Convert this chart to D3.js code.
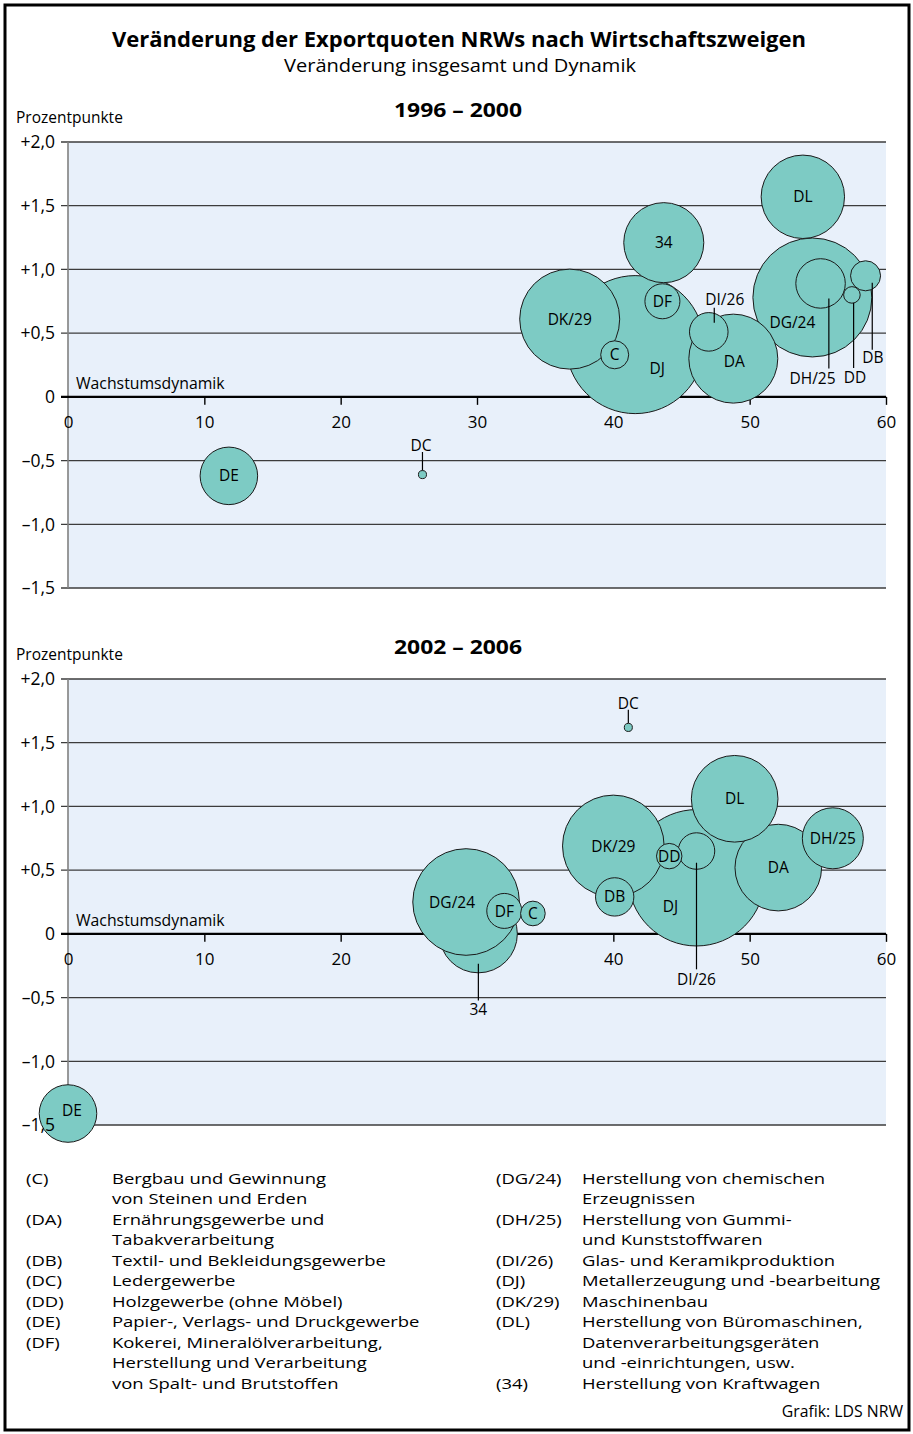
<!DOCTYPE html>
<html><head><meta charset="utf-8">
<script src="https://cdn.jsdelivr.net/npm/d3@7"></script>
<style>
body{margin:0;background:#fff}
svg{display:block}
text{font-family:"Open Sans",sans-serif;fill:#000}
</style>
</head><body>
<svg id="c" width="913" height="1434"></svg>
<script>
// ---------- DATA ----------
const categories = ["C","DA","DB","DC","DD","DE","DF","DG/24","DH/25","DI/26","DJ","DK/29","DL","34"];
// 1996 – 2000 : Wachstumsdynamik (x), Veränderung in Prozentpunkten (y), Bubble weight
const dyn9600  = [40.1, 48.8, 58.5, 26.0, 57.5, 11.8, 43.6, 54.6, 55.2, 47.0, 41.6, 36.8, 53.9, 43.7];
const chg9600  = [0.33, 0.30, 0.95,-0.61, 0.80,-0.62, 0.75, 0.78, 0.89, 0.51, 0.41, 0.61, 1.57, 1.21];
const size9600 = [4.0, 40.4, 4.6, 0.33, 1.4, 16.9, 6.25, 72.2, 12.5, 7.6, 97.2, 51.0, 35.5, 32.7];
// 2002 – 2006
const dyn0206  = [34.1, 52.1, 40.1, 41.1, 44.1, 0.0, 32.0, 29.2, 56.1, 46.1, 46.1, 40.0, 48.9, 30.1];
const chg0206  = [0.16, 0.52, 0.29, 1.62, 0.61,-1.41, 0.18, 0.25, 0.75, 0.65, 0.44, 0.69, 1.06, 0.00];
const size0206 = [3.1, 38.3, 7.5, 0.33, 3.3, 16.9, 6.25, 58.0, 19.0, 6.8, 94.9, 52.7, 38.3, 31.0];

const xTicks = [0,10,20,30,40,50,60];
const yTicks = [-1.5,-1,-0.5,0,0.5,1,1.5,2];
const yTickLabels = ["–1,5","–1,0","–0,5","0","+0,5","+1,0","+1,5","+2,0"];

const legendLeft = [
  ["(C)",  ["Bergbau und Gewinnung","von Steinen und Erden"]],
  ["(DA)", ["Ernährungsgewerbe und","Tabakverarbeitung"]],
  ["(DB)", ["Textil- und Bekleidungsgewerbe"]],
  ["(DC)", ["Ledergewerbe"]],
  ["(DD)", ["Holzgewerbe (ohne Möbel)"]],
  ["(DE)", ["Papier-, Verlags- und Druckgewerbe"]],
  ["(DF)", ["Kokerei, Mineralölverarbeitung,","Herstellung und Verarbeitung","von Spalt- und Brutstoffen"]]
];
const legendRight = [
  ["(DG/24)", ["Herstellung von chemischen","Erzeugnissen"]],
  ["(DH/25)", ["Herstellung von Gummi-","und Kunststoffwaren"]],
  ["(DI/26)", ["Glas- und Keramikproduktion"]],
  ["(DJ)",    ["Metallerzeugung und -bearbeitung"]],
  ["(DK/29)", ["Maschinenbau"]],
  ["(DL)",    ["Herstellung von Büromaschinen,","Datenverarbeitungsgeräten","und -einrichtungen, usw."]],
  ["(34)",    ["Herstellung von Kraftwagen"]]
];

// ---------- LAYOUT (drawing order, label offsets in px) ----------
const layout9600 = {
  order: ["DJ","DG/24","DK/29","DA","DL","34","DE","DH/25","DI/26","DF","DB","C","DD","DC"],
  label: {
    "DJ":{dx:22,dy:24}, "DG/24":{dx:-20,dy:25}, "DA":{dx:1,dy:3},
    "DI/26":{dx:16,dy:-32,line:[5.5,-9,-24]},
    "DH/25":{dx:-8,dy:95,line:[8.3,15,85]},
    "DD":{dx:3,dy:83,line:[1.7,8,73]},
    "DB":{dx:7.3,dy:82,line:[6.7,7,74]},
    "DC":{dx:-1.5,dy:-29,line:[0,-4.3,-22.6]}
  }
};
const layout0206 = {
  order: ["DJ","34","DG/24","DK/29","DA","DL","DH/25","DE","DB","DI/26","DF","DD","C","DC"],
  label: {
    "DJ":{dx:-26,dy:28.5}, "DG/24":{dx:-14,dy:0.5}, "DE":{dx:4,dy:-3},
    "DI/26":{dx:0,dy:128,line:[0,11.7,118.3]},
    "34":{dx:0,dy:76,line:[0,30,66.7]},
    "DC":{dx:0,dy:-23.7,line:[0,-4.4,-17.7]}
  }
};

// ---------- DRAW ----------
const svg = d3.select("#c");
const FILL = "#7dcbc4", BG = "#e8f0fa";
const x = d3.scaleLinear().domain([0,60]).range([68,886]);
const r = d3.scaleSqrt().domain([0,100]).range([0,70]);

// frame
svg.append("rect").attr("x",5).attr("y",5).attr("width",904).attr("height",1425)
   .attr("fill","none").attr("stroke","#000").attr("stroke-width",3);

// titles
svg.append("text").attr("x",459).attr("y",46.5).attr("text-anchor","middle")
   .attr("font-size",20.5).attr("font-weight","bold")
   .attr("textLength",694).attr("lengthAdjust","spacingAndGlyphs")
   .text("Veränderung der Exportquoten NRWs nach Wirtschaftszweigen");
svg.append("text").attr("x",460).attr("y",72).attr("text-anchor","middle")
   .attr("font-size",17.5).attr("textLength",352).attr("lengthAdjust","spacingAndGlyphs")
   .text("Veränderung insgesamt und Dynamik");

function panel(title, dyn, chg, size, lay, top, bottom){
  const y = d3.scaleLinear().domain([-1.5,2]).range([bottom,top]);
  const g = svg.append("g");
  g.append("text").attr("x",458).attr("y",top-25).attr("text-anchor","middle")
    .attr("font-size",20).attr("font-weight","bold")
    .attr("textLength",128).attr("lengthAdjust","spacingAndGlyphs").text(title);
  g.append("text").attr("x",16).attr("y",top-19).attr("font-size",15.5).text("Prozentpunkte");

  g.append("rect").attr("x",x(0)).attr("y",y(2)).attr("width",x(60)-x(0))
    .attr("height",y(-1.5)-y(2)).attr("fill",BG);

  // grid lines (incl. left tick stubs)
  g.selectAll("line.grid").data(yTicks.filter(d=>d!==0)).join("line").attr("class","grid")
    .attr("x1",61).attr("x2",x(60)).attr("y1",d=>y(d)).attr("y2",d=>y(d))
    .attr("stroke","#3c3c3c").attr("stroke-width",1.3);
  // y axis line
  g.append("line").attr("x1",x(0)).attr("x2",x(0)).attr("y1",y(2)).attr("y2",y(-1.5))
    .attr("stroke","#808080").attr("stroke-width",1.6);
  // x axis at zero
  const ax = g.append("g").attr("transform",`translate(0,${y(0)})`)
    .call(d3.axisBottom(x).tickValues(xTicks).tickSize(8).tickPadding(11).tickFormat(d3.format("d")));
  ax.select(".domain").remove();
  ax.selectAll(".tick line").attr("stroke","#000").attr("stroke-width",1.4)
    .attr("display",d=>d===0?"none":null);
  ax.selectAll(".tick text").attr("font-size",17).attr("font-family","Open Sans").attr("fill","#000");
  g.append("line").attr("x1",61).attr("x2",x(60)).attr("y1",y(0)).attr("y2",y(0))
    .attr("stroke","#000").attr("stroke-width",2.4);
  g.append("text").attr("x",76).attr("y",y(0)-8).attr("font-size",15.8).text("Wachstumsdynamik");

  // bubbles
  const data = lay.order.map(k=>{const i=categories.indexOf(k);return {k, vx:dyn[i], vy:chg[i], s:size[i]};});
  g.selectAll("circle.b").data(data).join("circle").attr("class","b")
    .attr("cx",d=>x(d.vx)).attr("cy",d=>y(d.vy)).attr("r",d=>r(d.s))
    .attr("fill",FILL).attr("stroke","#1a1a1a").attr("stroke-width",1);

  // leader lines
  const withLine = data.filter(d=>lay.label[d.k] && lay.label[d.k].line);
  g.selectAll("line.lead").data(withLine).join("line").attr("class","lead")
    .attr("x1",d=>x(d.vx)+lay.label[d.k].line[0]).attr("x2",d=>x(d.vx)+lay.label[d.k].line[0])
    .attr("y1",d=>y(d.vy)+lay.label[d.k].line[1]).attr("y2",d=>y(d.vy)+lay.label[d.k].line[2])
    .attr("stroke","#000").attr("stroke-width",1.2);

  // bubble labels
  g.selectAll("text.lab").data(data).join("text").attr("class","lab")
    .attr("x",d=>x(d.vx)+((lay.label[d.k]||{}).dx||0))
    .attr("y",d=>y(d.vy)+((lay.label[d.k]||{}).dy||0))
    .attr("dy","0.36em").attr("text-anchor","middle").attr("font-size",15.5)
    .text(d=>d.k);

  // y tick labels (on top)
  g.selectAll("text.yl").data(yTicks).join("text").attr("class","yl")
    .attr("x",55).attr("y",d=>y(d)).attr("dy","0.36em").attr("text-anchor","end")
    .attr("font-size",17.5).text((d,i)=>yTickLabels[i]);
}

panel("1996 – 2000", dyn9600, chg9600, size9600, layout9600, 142, 588);
panel("2002 – 2006", dyn0206, chg0206, size0206, layout0206, 679, 1125);

// legend (wide-set type: horizontally stretched)
const SX = 1.23;
function legend(items, xCode, xDesc){
  let line = 0;
  const g = svg.append("g").attr("transform",`scale(${SX},1)`).attr("font-size",15);
  items.forEach(([code, desc])=>{
    g.append("text").attr("x",xCode/SX).attr("y",1184+line*20.5).text(code);
    desc.forEach((t,j)=>{
      g.append("text").attr("x",xDesc/SX).attr("y",1184+(line+j)*20.5).text(t);
    });
    line += desc.length;
  });
}
legend(legendLeft, 26, 112);
legend(legendRight, 496, 582);

svg.append("text").attr("x",903).attr("y",1417).attr("text-anchor","end")
   .attr("font-size",15.8).text("Grafik: LDS NRW");
</script>
</body></html>
